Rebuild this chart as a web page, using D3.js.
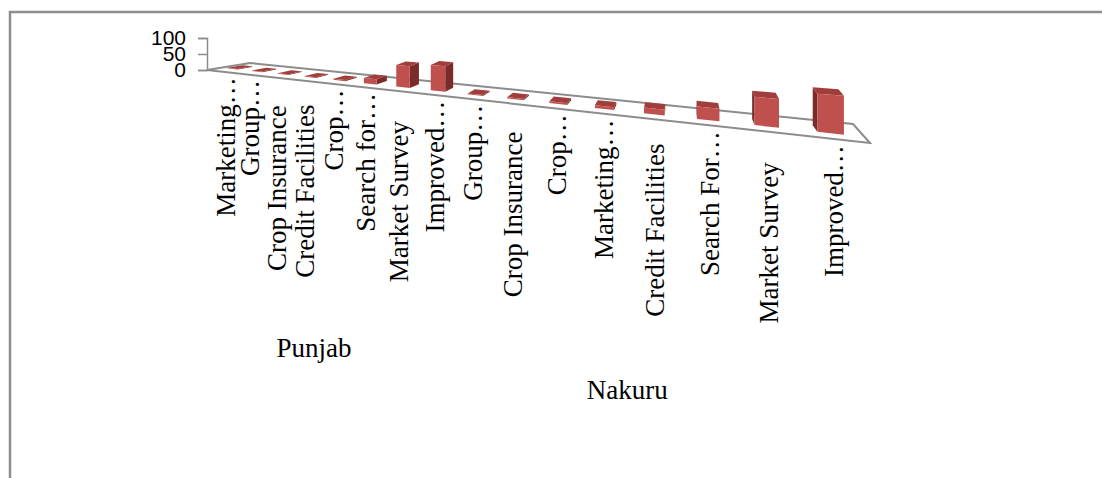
<!DOCTYPE html>
<html>
<head>
<meta charset="utf-8">
<script src="https://cdn.jsdelivr.net/npm/d3@7"></script>
<style>
  body { margin: 0; background: #fff; }
  svg { display: block; }
</style>
</head>
<body>
<div class="svg-container"></div>
<script>
/* DATA */
const regions = ["Punjab", "Nakuru"];
const punjabLabels = ["Marketing…", "Group…", "Crop Insurance", "Credit Facilities", "Crop…", "Search for…", "Market Survey", "Improved…"];
const nakuruLabels = ["Group…", "Crop Insurance", "Crop…", "Marketing…", "Credit Facilities", "Search For…", "Market Survey", "Improved…"];
const punjabValues = [2, 2, 2, 2, 3, 14, 56, 64];
const nakuruValues = [2, 3, 4, 6, 12, 25, 55, 71];
const yTicks = [0, 50, 100];

/* CONSTANTS */
const width = 1102, height = 478;
// corners of the 3d floor on screen
const floor = { fl: [207, 70], fr: [870, 143], bl: [250, 63], br: [853, 124] };
const persp = 0.577;          // foreshortening along the category axis
const barDepth = [0.32, 0.68]; // bar extent across the floor depth
const colors = { front: "#c0504d", top: "#a03e3b", side: "#7b2c2a", grid: "#8c8c8c" };

const rows = [
  ...punjabLabels.map((l, i) => ({ region: "Punjab", label: l, value: punjabValues[i], key: "P" + i })),
  ...nakuruLabels.map((l, i) => ({ region: "Nakuru", label: l, value: nakuruValues[i], key: "N" + i }))
];

/* SCALES */
const xBand = d3.scaleBand()
  .domain(rows.map(d => d.key))
  .range([0, 1])
  .paddingInner(0.6)
  .paddingOuter(0.3);

const yScale = d3.scaleLinear()
  .domain([0, 100])
  .range([floor.fl[1], floor.fl[1] - 32]);

// perspective helpers
const w = u => 1 + (persp - 1) * u;
const p = u => persp * u / w(u);
const lerp = (a, b, t) => [a[0] + (b[0] - a[0]) * t, a[1] + (b[1] - a[1]) * t];
const front = u => lerp(floor.fl, floor.fr, p(u));
const back = u => lerp(floor.bl, floor.br, p(u));
const pt = (u, v) => lerp(front(u), back(u), v);
const lift = (q, u, val) => [q[0], q[1] - (yScale(0) - yScale(val)) / w(u)];

/* SVG */
const svg = d3.select(".svg-container")
  .append("svg")
  .attr("width", width)
  .attr("height", height);

svg.append("rect")
  .attr("x", 10).attr("y", 12)
  .attr("width", width + 20).attr("height", height + 20)
  .attr("fill", "none")
  .attr("stroke", "#8e8e8e")
  .attr("stroke-width", 2.5);

// floor
svg.append("path")
  .attr("d", d3.line()([floor.fl, floor.fr, floor.br, floor.bl]) + "Z")
  .attr("fill", "none")
  .attr("stroke", colors.grid)
  .attr("stroke-width", 2);

// value axis
const axisG = svg.append("g")
  .attr("transform", `translate(${floor.fl[0]},0)`)
  .call(d3.axisLeft(yScale).tickValues(yTicks).tickSize(9).tickPadding(12));
axisG.selectAll("path, line").attr("stroke", colors.grid).attr("stroke-width", 1.5);
axisG.selectAll("text")
  .attr("fill", "#000")
  .style("font-family", "'Liberation Sans', Arial, sans-serif")
  .style("font-size", "21px");

// bars as 3d boxes
const bars = svg.append("g").selectAll("g")
  .data(rows)
  .join("g");

bars.each(function (d) {
  const u0 = xBand(d.key), u1 = u0 + xBand.bandwidth();
  const A = pt(u0, barDepth[0]), B = pt(u1, barDepth[0]);
  const C = pt(u1, barDepth[1]), D = pt(u0, barDepth[1]);
  const At = lift(A, u0, d.value), Bt = lift(B, u1, d.value);
  const Ct = lift(C, u1, d.value), Dt = lift(D, u0, d.value);
  const g = d3.select(this);
  const poly = pts => d3.line()(pts) + "Z";
  if (C[0] - B[0] > 0) {
    g.append("path").attr("d", poly([B, C, Ct, Bt])).attr("fill", colors.side);
  } else {
    g.append("path").attr("d", poly([A, D, Dt, At])).attr("fill", colors.side);
  }
  g.append("path").attr("d", poly([At, Bt, Ct, Dt])).attr("fill", colors.top);
  g.append("path").attr("d", poly([A, B, Bt, At])).attr("fill", colors.front);
});

// category labels
const labelFont = "'Liberation Serif', 'Times New Roman', serif";
const labels = svg.append("g").selectAll("text")
  .data(rows)
  .join("text")
  .attr("text-anchor", d => d.label.endsWith("…") ? "end" : "middle")
  .style("font-family", labelFont)
  .style("font-size", "27px")
  .attr("fill", "#000")
  .text(d => d.label)
  .attr("transform", d => {
    const u = xBand(d.key) + xBand.bandwidth() / 2;
    const x = pt(u, 0.13)[0] + 10;
    const y = front(u)[1] + (d.label.endsWith("…") ? 6 : 111);
    d.ly = y;
    return `translate(${x},${y}) rotate(-90)`;
  });

labels.each(function (d) {
  const len = this.getComputedTextLength();
  d.bottom = d.label.endsWith("…") ? d.ly + len : d.ly + len / 2;
});

// region labels
svg.append("g").selectAll("text")
  .data(regions)
  .join("text")
  .attr("text-anchor", "middle")
  .style("font-family", labelFont)
  .style("font-size", "27px")
  .attr("fill", "#000")
  .attr("x", r => {
    const keys = rows.filter(d => d.region === r).map(d => d.key);
    const uMid = (xBand(keys[0]) + xBand(keys[keys.length - 1]) + xBand.bandwidth()) / 2;
    return front(uMid)[0];
  })
  .attr("y", r => d3.max(rows.filter(d => d.region === r), d => d.bottom) + 75)
  .text(r => r);
</script>
</body>
</html>
